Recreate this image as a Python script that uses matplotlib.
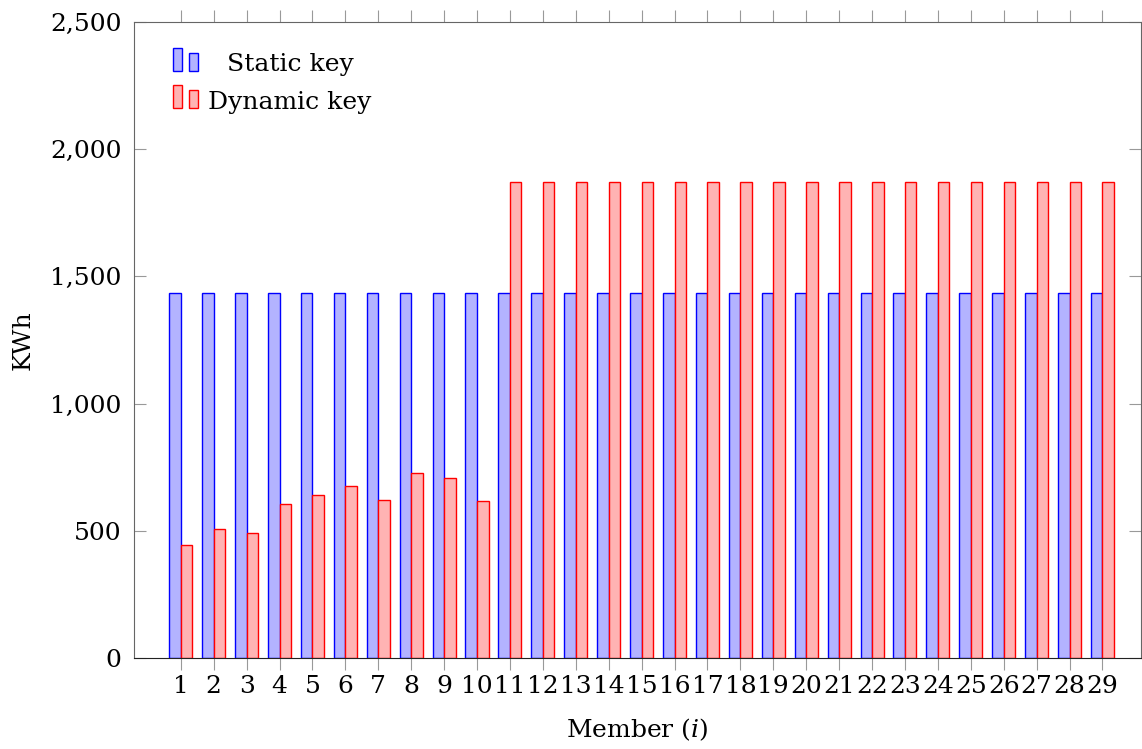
from matplotlib import pyplot as plt
from matplotlib.patches import Rectangle
from matplotlib.ticker import FuncFormatter
import numpy as np

members = np.arange(1, 30)
static_key = [1435] * 29
dynamic_key = [444, 506, 493, 604, 640, 675, 621, 726, 706, 617] + [1872] * 19
series_names = ['Static key', 'Dynamic key']

plt.rcParams['font.family'] = 'DejaVu Serif'
plt.rcParams['mathtext.fontset'] = 'dejavuserif'
font_size = 18
W, H = 1142, 749
blue_fc, red_fc = '#b3b3ff', '#ffb3b3'

fig = plt.figure(figsize=(W / 100, H / 100), dpi=100)
ax = fig.add_axes([134 / W, 1 - 658 / H, (1141 - 134) / W, (658 - 22) / H])

w = 0.35
ax.bar(members - w / 2, static_key, width=w, color=blue_fc, edgecolor='blue', lw=1.0)
ax.bar(members + w / 2, dynamic_key, width=w, color=red_fc, edgecolor='red', lw=1.0)

ax.set_xlim(-0.42, 30.17)
ax.set_ylim(0, 2500)
ax.set_xticks(members)
ax.set_yticks([0, 500, 1000, 1500, 2000, 2500])
ax.yaxis.set_major_formatter(FuncFormatter(lambda v, p: '{:,.0f}'.format(v)))
ax.tick_params(axis='x', direction='out', top=True, length=8.5, color='#999999', labelsize=font_size, pad=4)
ax.tick_params(axis='y', direction='in', right=True, length=8.5, color='#999999', labelsize=font_size, pad=9)
for s in ['left', 'top', 'right']:
    ax.spines[s].set_color('#666666')
ax.spines['bottom'].set_color('#222222')

ax.set_xlabel('Member ($i$)', fontsize=font_size, labelpad=13)
ax.set_ylabel('KWh', fontsize=font_size, labelpad=11)


# pgfplots like legend (two small bars + centred text), placed in pixel coords
def px(x, y):
    return x / W, 1 - y / H


for k, (name, fc, ec) in enumerate(zip(series_names, [blue_fc, red_fc], ['blue', 'red'])):
    dy = k * 37
    for x0, top in [(173, 48), (189, 53)]:
        x, y = px(x0, 71 + dy)
        fig.add_artist(Rectangle((x, y), 8.5 / W, (71 - top) / H, transform=fig.transFigure,
                                 facecolor=fc, edgecolor=ec, lw=1.0))
    tx, ty = px(290, 65 + dy)
    fig.text(tx, ty, name, ha='center', va='center', fontsize=font_size)

plt.savefig('out.png')
